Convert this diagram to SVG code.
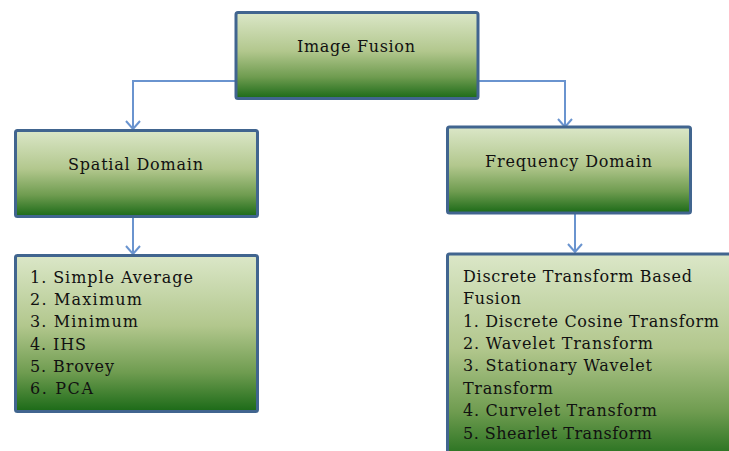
<svg xmlns="http://www.w3.org/2000/svg" width="729" height="451" viewBox="0 0 729 451">
<defs>
<linearGradient id="g" x1="0" y1="0" x2="0" y2="1">
<stop offset="0" stop-color="#dbe7c8"/>
<stop offset="0.45" stop-color="#b2c78d"/>
<stop offset="0.75" stop-color="#6f9c50"/>
<stop offset="1" stop-color="#1b6a17"/>
</linearGradient>
<marker id="arr" markerWidth="12" markerHeight="16" refX="10" refY="8" orient="auto" markerUnits="userSpaceOnUse" viewBox="0 0 12 16">
<path d="M2,1 L10,8 L2,15" fill="none" stroke="#6a94cf" stroke-width="2"/>
</marker>
</defs>
<style>
.box{fill:url(#g);stroke:#41658f;stroke-width:3}
.t{font-family:"DejaVu Serif","Liberation Serif",serif;font-size:16px;fill:#111}
.c{fill:none;stroke:#6a94cf;stroke-width:2}
</style>
<rect width="729" height="451" fill="#ffffff"/>
<g id="connectors">
<path class="c" d="M236,81 H133 V129" marker-end="url(#arr)"/>
<path class="c" d="M477,81 H565 V127" marker-end="url(#arr)"/>
<path class="c" d="M133,218 V254" marker-end="url(#arr)"/>
<path class="c" d="M575,206 V252" marker-end="url(#arr)"/>
</g>
<g id="image-fusion">
<rect class="box" x="236" y="12.5" width="242" height="86" rx="2"/>
<text class="t" x="297" y="52" textLength="118" lengthAdjust="spacing">Image Fusion</text>
</g>
<g id="spatial-domain">
<rect class="box" x="15.5" y="130.5" width="242" height="86" rx="2"/>
<text class="t" x="68" y="170" textLength="135" lengthAdjust="spacing">Spatial Domain</text>
</g>
<g id="frequency-domain">
<rect class="box" x="447.5" y="127" width="243" height="86" rx="2"/>
<text class="t" x="485" y="167" textLength="167" lengthAdjust="spacing">Frequency Domain</text>
</g>
<g id="spatial-methods">
<rect class="box" x="15.5" y="255.5" width="242" height="156" rx="2"/>
<text class="t" x="30" y="283" textLength="163" lengthAdjust="spacing">1. Simple Average</text>
<text class="t" x="30" y="305.2" textLength="112" lengthAdjust="spacing">2. Maximum</text>
<text class="t" x="30" y="327.4" textLength="108" lengthAdjust="spacing">3. Minimum</text>
<text class="t" x="30" y="349.6" textLength="56" lengthAdjust="spacing">4. IHS</text>
<text class="t" x="30" y="371.8" textLength="84" lengthAdjust="spacing">5. Brovey</text>
<text class="t" x="30" y="394" textLength="63" lengthAdjust="spacing">6. PCA</text>
</g>
<g id="frequency-methods">
<rect class="box" x="447.5" y="254" width="290" height="210" rx="2"/>
<text class="t" x="463" y="281.7" textLength="229" lengthAdjust="spacing">Discrete Transform Based</text>
<text class="t" x="463" y="304.2" textLength="58" lengthAdjust="spacing">Fusion</text>
<text class="t" x="463" y="326.6" textLength="256" lengthAdjust="spacing">1. Discrete Cosine Transform</text>
<text class="t" x="463" y="349" textLength="190" lengthAdjust="spacing">2. Wavelet Transform</text>
<text class="t" x="463" y="371.4" textLength="189" lengthAdjust="spacing">3. Stationary Wavelet</text>
<text class="t" x="463" y="393.8" textLength="90" lengthAdjust="spacing">Transform</text>
<text class="t" x="463" y="416.2" textLength="194" lengthAdjust="spacing">4. Curvelet Transform</text>
<text class="t" x="463" y="438.6" textLength="189" lengthAdjust="spacing">5. Shearlet Transform</text>
</g>
</svg>
